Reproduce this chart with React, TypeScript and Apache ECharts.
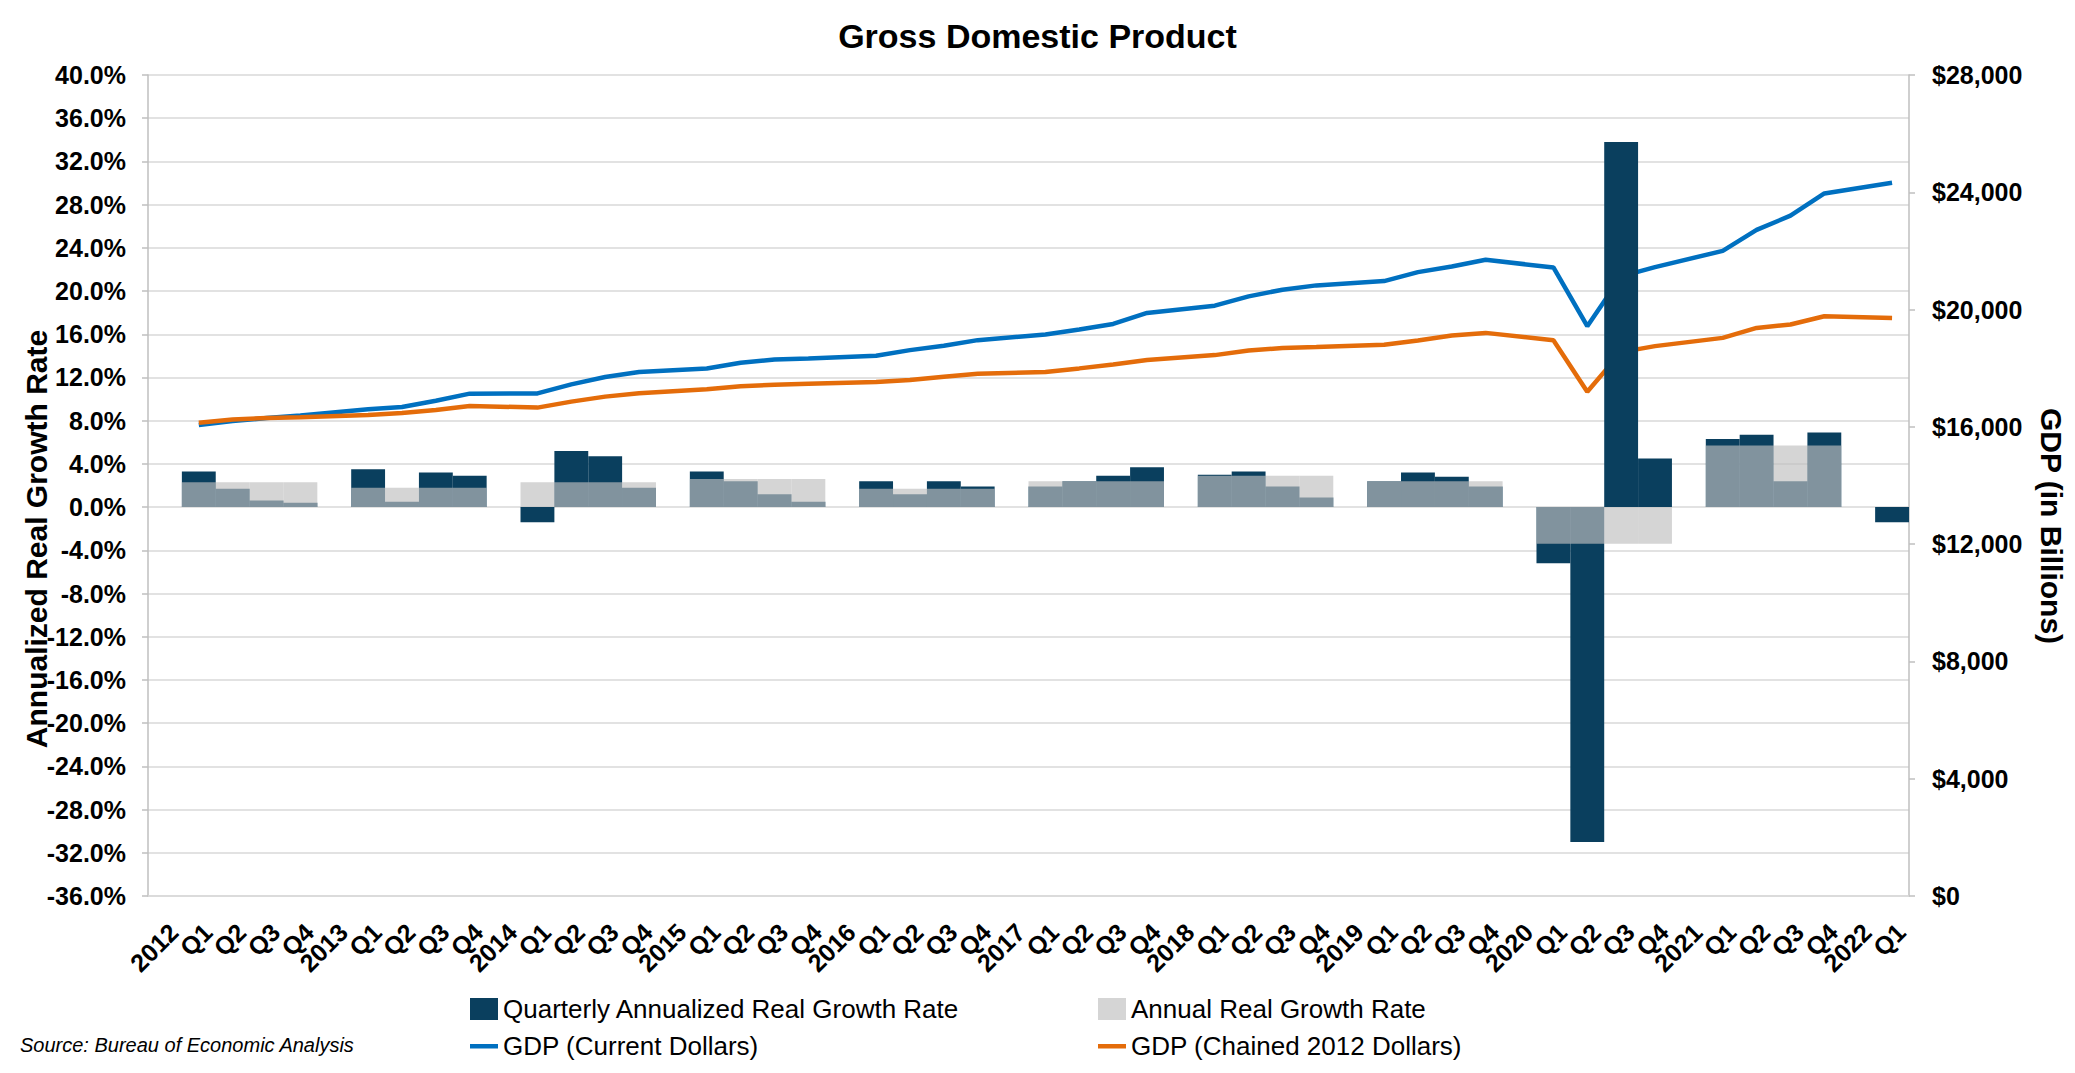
import React, { useEffect, useRef } from "react";
import * as echarts from "echarts";

const categories = [
  "2012", "Q1", "Q2", "Q3", "Q4",
  "2013", "Q1", "Q2", "Q3", "Q4",
  "2014", "Q1", "Q2", "Q3", "Q4",
  "2015", "Q1", "Q2", "Q3", "Q4",
  "2016", "Q1", "Q2", "Q3", "Q4",
  "2017", "Q1", "Q2", "Q3", "Q4",
  "2018", "Q1", "Q2", "Q3", "Q4",
  "2019", "Q1", "Q2", "Q3", "Q4",
  "2020", "Q1", "Q2", "Q3", "Q4",
  "2021", "Q1", "Q2", "Q3", "Q4",
  "2022", "Q1",
];

// Quarterly annualized real growth rate (%)
const quarterlyGrowth = [
  null, 3.3, 1.7, 0.6, 0.4,
  null, 3.5, 0.5, 3.2, 2.9,
  null, -1.4, 5.2, 4.7, 1.8,
  null, 3.3, 2.4, 1.2, 0.5,
  null, 2.4, 1.2, 2.4, 1.9,
  null, 1.9, 2.4, 2.9, 3.7,
  null, 3.0, 3.3, 1.9, 0.9,
  null, 2.4, 3.2, 2.8, 1.9,
  null, -5.2, -31.0, 33.8, 4.5,
  null, 6.3, 6.7, 2.4, 6.9,
  null, -1.4,
];

// Annual real growth rate (%)
const annualGrowth = [
  null, 2.3, 2.3, 2.3, 2.3,
  null, 1.8, 1.8, 1.8, 1.8,
  null, 2.3, 2.3, 2.3, 2.3,
  null, 2.6, 2.6, 2.6, 2.6,
  null, 1.7, 1.7, 1.7, 1.7,
  null, 2.4, 2.4, 2.4, 2.4,
  null, 2.9, 2.9, 2.9, 2.9,
  null, 2.4, 2.4, 2.4, 2.4,
  null, -3.4, -3.4, -3.4, -3.4,
  null, 5.7, 5.7, 5.7, 5.7,
  null, null,
];

// GDP, current dollars (billions)
const gdpCurrent = [
  null, 16060, 16200, 16300, 16390,
  null, 16600, 16680, 16890, 17133,
  null, 17140, 17450, 17700, 17870,
  null, 17990, 18186, 18295, 18333,
  null, 18424, 18617, 18764, 18957,
  null, 19149, 19319, 19511, 19885,
  null, 20134, 20451, 20678, 20825,
  null, 20972, 21278, 21470, 21697,
  null, 21436, 19432, 21130, 21447,
  null, 22003, 22716, 23203, 23960,
  null, 24323,
];

// GDP, chained 2012 dollars (billions)
const gdpChained = [
  null, 16140, 16250, 16300, 16330,
  null, 16408, 16476, 16578, 16714,
  null, 16657, 16861, 17031, 17144,
  null, 17280, 17382, 17438, 17472,
  null, 17529, 17597, 17710, 17812,
  null, 17870, 17994, 18130, 18277,
  null, 18447, 18606, 18690, 18720,
  null, 18797, 18946, 19116, 19205,
  null, 18956, 17200, 18549, 18753,
  null, 19035, 19375, 19489, 19772,
  null, 19714,
];

const leftTicks = { min: -36, max: 40, interval: 4 };
const rightTicks = { min: 0, max: 28000, interval: 4000 };

const FONT = "'Liberation Sans', Arial, Helvetica, sans-serif";

// legend icon: a short thick line centred in a 28x22 box
const LINE_ICON =
  "path://M0,0 L0.01,0 L0.01,0.01 Z M0,9 L28,9 L28,13.5 L0,13.5 Z M27.99,22 L28,22 L28,21.99 Z";

export default function App() {
  const ref = useRef<HTMLDivElement>(null);

  useEffect(() => {
    document.body.style.margin = "0";
    if (!ref.current) return;
    const chart = echarts.init(ref.current, null, { renderer: "svg" });

    const option = {
      animation: false,
      backgroundColor: "#ffffff",
      textStyle: { fontFamily: FONT },
      title: {
        text: "Gross Domestic Product",
        left: "center",
        top: 14,
        textStyle: { fontFamily: FONT, fontSize: 34, fontWeight: "bold", color: "#000" },
      },
      grid: { left: 148, right: 166, top: 75, bottom: 177, containLabel: false },
      legend: [
        {
          orient: "vertical",
          left: 465,
          top: 991,
          itemGap: 11,
          itemWidth: 28,
          itemHeight: 22,
          textStyle: { fontFamily: FONT, fontSize: 26, color: "#000" },
          data: [
            { name: "Quarterly Annualized Real Growth Rate", icon: "rect" },
            { name: "GDP (Current Dollars)", icon: LINE_ICON },
          ],
        },
        {
          orient: "vertical",
          left: 1093,
          top: 991,
          itemGap: 11,
          itemWidth: 28,
          itemHeight: 22,
          textStyle: { fontFamily: FONT, fontSize: 26, color: "#000" },
          data: [
            { name: "Annual Real Growth Rate", icon: "rect" },
            { name: "GDP (Chained 2012 Dollars)", icon: LINE_ICON },
          ],
        },
      ],
      xAxis: {
        type: "category",
        data: categories,
        boundaryGap: true,
        axisLine: { show: true, onZero: false, lineStyle: { color: "#d9d9d9", width: 1.5 } },
        axisTick: { show: false },
        axisLabel: {
          interval: 0,
          rotate: 45,
          align: "right",
          verticalAlign: "top",
          margin: 23,
          fontFamily: FONT,
          fontSize: 25,
          fontWeight: "bold",
          color: "#000",
        },
      },
      yAxis: [
        {
          type: "value",
          position: "left",
          min: leftTicks.min,
          max: leftTicks.max,
          interval: leftTicks.interval,
          axisLine: { show: true, lineStyle: { color: "#bfbfbf", width: 1.5 } },
          axisTick: { show: true, length: 6, lineStyle: { color: "#bfbfbf", width: 1.5 } },
          splitLine: { show: true, lineStyle: { color: "#d9d9d9", width: 1.5 } },
          axisLabel: {
            margin: 22,
            fontFamily: FONT,
            fontSize: 25,
            fontWeight: "bold",
            color: "#000",
            formatter: (v: number) => v.toFixed(1) + "%",
          },
        },
        {
          type: "value",
          position: "right",
          min: rightTicks.min,
          max: rightTicks.max,
          interval: rightTicks.interval,
          axisLine: { show: true, lineStyle: { color: "#bfbfbf", width: 1.5 } },
          axisTick: { show: true, length: 6, lineStyle: { color: "#bfbfbf", width: 1.5 } },
          splitLine: { show: false },
          axisLabel: {
            margin: 23,
            fontFamily: FONT,
            fontSize: 25,
            fontWeight: "bold",
            color: "#000",
            formatter: (v: number) => "$" + v.toLocaleString("en-US"),
          },
        },
      ],
      series: [
        {
          name: "GDP (Current Dollars)",
          type: "line",
          yAxisIndex: 1,
          data: gdpCurrent,
          connectNulls: true,
          symbol: "none",
          showSymbol: false,
          z: 1,
          lineStyle: { color: "#0070c0", width: 4.5 },
          itemStyle: { color: "#0070c0" },
        },
        {
          name: "GDP (Chained 2012 Dollars)",
          type: "line",
          yAxisIndex: 1,
          data: gdpChained,
          connectNulls: true,
          symbol: "none",
          showSymbol: false,
          z: 1,
          lineStyle: { color: "#e46c0a", width: 4.5 },
          itemStyle: { color: "#e46c0a" },
        },
        {
          name: "Quarterly Annualized Real Growth Rate",
          type: "bar",
          yAxisIndex: 0,
          data: quarterlyGrowth,
          barCategoryGap: "0%",
          barGap: "-100%",
          z: 5,
          itemStyle: { color: "#0a3f5e" },
        },
        {
          name: "Annual Real Growth Rate",
          type: "bar",
          yAxisIndex: 0,
          data: annualGrowth,
          barCategoryGap: "0%",
          barGap: "-100%",
          z: 6,
          itemStyle: { color: "#c0c0c0", opacity: 0.66 },
        },
      ],
      graphic: [
        {
          type: "text",
          x: 36,
          y: 539,
          rotation: Math.PI / 2,
          style: {
            text: "Annualized Real Growth Rate",
            font: `bold 30px ${FONT}`,
            fill: "#000",
            textAlign: "center",
            textVerticalAlign: "middle",
          },
        },
        {
          type: "text",
          x: 2051,
          y: 526,
          rotation: -Math.PI / 2,
          style: {
            text: "GDP (in Billions)",
            font: `bold 30px ${FONT}`,
            fill: "#000",
            textAlign: "center",
            textVerticalAlign: "middle",
          },
        },
        {
          type: "text",
          x: 20,
          y: 1045,
          style: {
            text: "Source: Bureau of Economic Analysis",
            font: `italic 20px ${FONT}`,
            fill: "#000",
            textAlign: "left",
            textVerticalAlign: "middle",
          },
        },
      ],
    };

    chart.setOption(option as any);
    return () => chart.dispose();
  }, []);

  return <div ref={ref} style={{ width: 2075, height: 1073 }} />;
}
